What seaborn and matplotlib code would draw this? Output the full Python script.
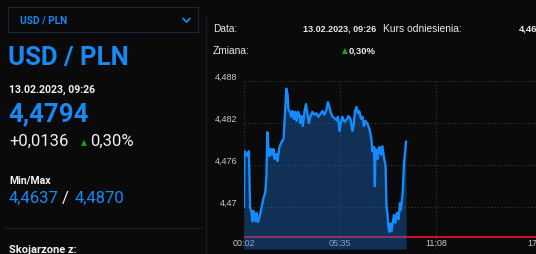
import matplotlib
matplotlib.use("Agg")
import matplotlib.pyplot as plt
import matplotlib.transforms as mtransforms
from matplotlib.lines import Line2D
from matplotlib.patches import Rectangle
import seaborn as sns
import pandas as pd

# ---- data ----
minutes = [2, 3.5, 10, 14, 19, 23, 28, 31, 35, 42, 45, 50, 56, 62, 69, 76, 80, 83, 87, 90,
           95, 100, 104, 108, 114, 118, 125, 132, 139, 144, 149, 153, 156, 161, 166, 170, 175, 180, 184, 189,
           194, 198, 201, 206, 212, 217, 222, 227, 232, 239, 246, 253, 260, 267, 274, 281, 288, 293, 298, 304,
           309, 316, 323, 328, 333, 336, 343, 350, 357, 364, 371, 378, 382, 387, 392, 397, 402, 408, 413, 418,
           423, 430, 437, 444, 447, 453, 456, 458, 461, 465, 468, 472, 477, 482, 487, 493, 496, 500, 503, 506,
           510, 513, 517, 522, 527, 532, 538, 543, 546, 552, 557, 564]
rates = [4.4700, 4.4780, 4.4776, 4.4773, 4.4780, 4.4700, 4.4693, 4.4680, 4.4695, 4.4680, 4.4692, 4.4679, 4.4686, 4.4698, 4.4712, 4.4722, 4.4747, 4.4807, 4.4783, 4.4773,
         4.4783, 4.4775, 4.4783, 4.4769, 4.4776, 4.4766, 4.4786, 4.4793, 4.4797, 4.4833, 4.4869, 4.4861, 4.4840, 4.4836, 4.4829, 4.4837, 4.4826, 4.4836, 4.4823, 4.4836,
         4.4832, 4.4820, 4.4830, 4.4816, 4.4837, 4.4847, 4.4833, 4.4820, 4.4829, 4.4836, 4.4832, 4.4834, 4.4829, 4.4833, 4.4837, 4.4832, 4.4839, 4.4850, 4.4843, 4.4834,
         4.4829, 4.4827, 4.4824, 4.4829, 4.4809, 4.4817, 4.4829, 4.4822, 4.4824, 4.4830, 4.4826, 4.4809, 4.4816, 4.4837, 4.4843, 4.4834, 4.4837, 4.4826, 4.4829, 4.4816,
         4.4823, 4.4819, 4.4812, 4.4797, 4.4780, 4.4786, 4.4730, 4.4783, 4.4777, 4.4769, 4.4783, 4.4786, 4.4775, 4.4787, 4.4772, 4.4759, 4.4702, 4.4689, 4.4672, 4.4665,
         4.4677, 4.4666, 4.4675, 4.4689, 4.4678, 4.4692, 4.4683, 4.4706, 4.4696, 4.4719, 4.4762, 4.4794]
reference_rate = 4.4658
x_ticks = [2, 335, 668, 1022]
x_tick_labels = ["00:02", "05:35", "11:08", "17:02"]
y_ticks = [4.470, 4.476, 4.482, 4.488]
y_tick_labels = ["4,47", "4,476", "4,482", "4,488"]

pair = "USD / PLN"
date_str = "13.02.2023, 09:26"
last_rate = "4,4794"
change_abs = "+0,0136"
change_pct = "0,30%"
min_rate = "4,4637"
max_rate = "4,4870"
ref_str = "4,4658"

df = pd.DataFrame({"minute": minutes, "rate": rates})

# ---- style ----
BG = "#0a0a0a"
BLUE = "#1a88f2"
LINE = "#148cff"
sns.set_theme(style="dark")
plt.rcParams["font.family"] = ["Roboto", "DejaVu Sans"]

W, H = 536, 255
fig = plt.figure(figsize=(W / 100, H / 100), dpi=100, facecolor=BG)

def fx(px):
    return px / W

def fy(py):
    return 1 - py / H

# ---- chart ----
ax = fig.add_axes([fx(244), fy(250), fx(560) - fx(244), fy(82) - fy(250)])
ax.set_facecolor(BG)
ax.set_xlim(2, 1098)
ax.set_ylim(4.46406, 4.488)
for s in ax.spines.values():
    s.set_visible(False)

ax.set_xticks(x_ticks)
ax.set_xticklabels(x_tick_labels)
ax.set_yticks(y_ticks)
ax.set_yticklabels(y_tick_labels)
ax.grid(True, color="#3a3a3a", linestyle=(0, (1, 2)), linewidth=0.8)
ax.tick_params(axis="both", length=0, colors="#c8c8c8", labelsize=6.5)
ax.tick_params(axis="x", pad=-8.2)
ax.tick_params(axis="y", pad=5)
for lab in ax.get_xticklabels() + ax.get_yticklabels():
    lab.set_fontfamily(["Liberation Sans", "DejaVu Sans"])
off = mtransforms.ScaledTranslation(0, 6 / 100, fig.dpi_scale_trans)
for lab in ax.get_yticklabels():
    lab.set_transform(lab.get_transform() + off)

ax.axhline(reference_rate, color="#c8102e", linewidth=1.5, zorder=2)
ax.fill_between(df["minute"], df["rate"], 4.46406, color="#1a6fd0", alpha=0.38,
                linewidth=0, zorder=3)
sns.lineplot(data=df, x="minute", y="rate", ax=ax, color=LINE, linewidth=1.7, zorder=4)
ax.set_xlabel("")
ax.set_ylabel("")

# ---- left panel ----
fig.add_artist(Rectangle((fx(8), fy(33)), fx(198) - fx(8), fy(8) - fy(33),
                         transform=fig.transFigure, fill=False, edgecolor="#16283a", linewidth=0.8))
fig.text(fx(20), fy(20.5), pair, color=BLUE, fontsize=7.3, fontweight="bold", va="center")
fig.add_artist(Line2D([fx(183), fx(186.5), fx(190)], [fy(19.5), fy(23), fy(19.5)],
                      transform=fig.transFigure, color=BLUE, linewidth=1.3))
fig.text(fx(8), fy(57.5), pair, color=BLUE, fontsize=18.5, fontweight="bold", va="center")
fig.text(fx(9), fy(89.5), date_str, color="#f0f0f0", fontsize=7.6, fontweight="bold", va="center")
fig.text(fx(8), fy(114.5), last_rate, color=BLUE, fontsize=18.5, fontweight="bold", va="center")
fig.text(fx(9), fy(141), change_abs, color="#f0f0f0", fontsize=12, va="center")
fig.text(fx(83.5), fy(142.5), "▲", color="#1aa01a", fontsize=5.5, va="center", ha="center",
         fontfamily=["DejaVu Sans"])
fig.text(fx(90), fy(141), change_pct, color="#f0f0f0", fontsize=12, va="center")
fig.text(fx(9), fy(181), "Min/Max", color="#f0f0f0", fontsize=7.6, fontweight="bold", va="center")
fig.text(fx(9), fy(198.5), min_rate, color=BLUE, fontsize=12, va="center")
fig.text(fx(65), fy(198.5), "/", color="#f0f0f0", fontsize=12, va="center", ha="center")
fig.text(fx(75), fy(198.5), max_rate, color=BLUE, fontsize=12, va="center")
fig.add_artist(Line2D([fx(3), fx(204)], [fy(229), fy(229)], transform=fig.transFigure,
                      color="#1c1c1c", linewidth=0.8))
fig.text(fx(9), fy(250.5), "Skojarzone z:", color="#f0f0f0", fontsize=8, fontweight="bold", va="center")

# ---- right panel header ----
fig.add_artist(Line2D([fx(205.5), fx(205.5)], [fy(18), fy(255)], transform=fig.transFigure,
                      color="#1e1e1e", linewidth=0.8))
ARIAL = ["Liberation Sans", "DejaVu Sans"]
fig.text(fx(213), fy(29), "Data:", color="#e8e8e8", fontsize=7.3, va="center", fontfamily=ARIAL)
fig.text(fx(376), fy(29), date_str, color="#e8e8e8", fontsize=6.5, fontweight="bold", va="center",
         ha="right", fontfamily=ARIAL)
fig.text(fx(383), fy(29), "Kurs odniesienia:", color="#e8e8e8", fontsize=7.4, va="center", fontfamily=ARIAL)
fig.text(fx(519), fy(29), ref_str, color="#e8e8e8", fontsize=6.8, fontweight="bold", va="center",
         fontfamily=ARIAL)
fig.text(fx(213), fy(51), "Zmiana:", color="#e8e8e8", fontsize=7.3, va="center", fontfamily=ARIAL)
fig.text(fx(344.5), fy(51), "▲", color="#1aa01a", fontsize=5.5, va="center", ha="center",
         fontfamily=["DejaVu Sans"])
fig.text(fx(376), fy(51), change_pct, color="#e8e8e8", fontsize=6.8, fontweight="bold", va="center",
         ha="right", fontfamily=ARIAL)

fig.savefig("out.png", dpi=100, facecolor=BG)
